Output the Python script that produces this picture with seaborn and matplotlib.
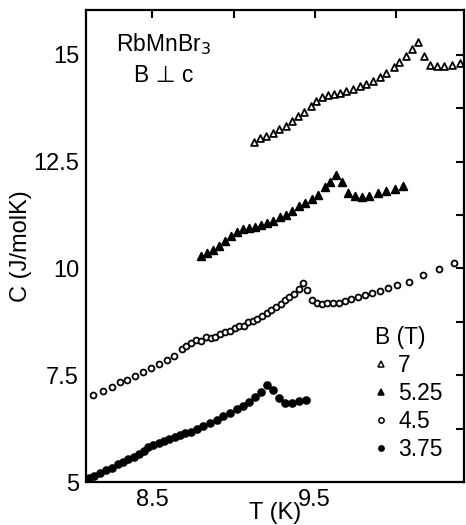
import matplotlib
matplotlib.use("Agg")
import matplotlib.pyplot as plt
import seaborn as sns
import pandas as pd
from matplotlib.ticker import FixedLocator
from matplotlib.lines import Line2D

sns.set_theme(style="white")
plt.rcParams['font.family'] = ['Liberation Sans', 'DejaVu Sans']
plt.rcParams['text.color'] = 'black'
plt.rcParams['axes.labelcolor'] = 'black'
plt.rcParams['xtick.color'] = 'black'
plt.rcParams['ytick.color'] = 'black'

# ---- data ----
T_7 = [9.125, 9.162, 9.199, 9.240, 9.281, 9.320, 9.359, 9.397, 9.434, 9.474, 9.506,
       9.543, 9.582, 9.617, 9.654, 9.695, 9.735, 9.777, 9.818, 9.858, 9.900, 9.941,
       9.987, 10.022, 10.064, 10.100, 10.137, 10.172, 10.213, 10.254, 10.299, 10.346, 10.397]
C_7 = [12.95, 13.06, 13.11, 13.17, 13.27, 13.34, 13.44, 13.56, 13.66, 13.80, 13.91,
       14.01, 14.06, 14.09, 14.11, 14.15, 14.20, 14.26, 14.32, 14.39, 14.48, 14.57,
       14.71, 14.83, 14.98, 15.14, 15.30, 14.98, 14.77, 14.75, 14.75, 14.77, 14.81]

T_525 = [8.799, 8.838, 8.875, 8.912, 8.949, 8.986, 9.022, 9.059, 9.096, 9.133, 9.170,
         9.207, 9.244, 9.285, 9.322, 9.359, 9.400, 9.440, 9.482, 9.523, 9.561, 9.597,
         9.633, 9.668, 9.707, 9.748, 9.789, 9.834, 9.887, 9.941, 9.992, 10.043]
C_525 = [10.28, 10.37, 10.44, 10.53, 10.65, 10.77, 10.85, 10.93, 10.95, 10.98, 11.02,
         11.07, 11.12, 11.20, 11.25, 11.35, 11.47, 11.53, 11.63, 11.73, 11.90, 12.03,
         12.19, 12.03, 11.76, 11.70, 11.68, 11.70, 11.76, 11.81, 11.86, 11.94]

T_45 = [8.131, 8.193, 8.248, 8.300, 8.344, 8.392, 8.439, 8.488, 8.539, 8.589, 8.635,
        8.681, 8.709, 8.740, 8.769, 8.797, 8.828, 8.859, 8.887, 8.918, 8.949, 8.978,
        9.008, 9.035, 9.062, 9.090, 9.117, 9.145, 9.174, 9.203, 9.231, 9.260, 9.289,
        9.317, 9.344, 9.371, 9.400, 9.428, 9.453, 9.486, 9.514, 9.543, 9.578, 9.612,
        9.648, 9.684, 9.726, 9.766, 9.812, 9.855, 9.900, 9.951, 10.008, 10.078, 10.170,
        10.268, 10.360]
C_45 = [7.03, 7.14, 7.23, 7.33, 7.39, 7.48, 7.58, 7.68, 7.76, 7.86, 7.96,
        8.12, 8.18, 8.25, 8.33, 8.31, 8.40, 8.37, 8.40, 8.47, 8.50, 8.54,
        8.61, 8.65, 8.65, 8.74, 8.78, 8.82, 8.89, 8.96, 9.03, 9.09, 9.17,
        9.25, 9.32, 9.39, 9.52, 9.67, 9.50, 9.25, 9.18, 9.16, 9.18, 9.18,
        9.20, 9.23, 9.28, 9.33, 9.38, 9.42, 9.47, 9.53, 9.61, 9.69, 9.84,
        9.99, 10.13]

T_375 = [8.107, 8.142, 8.179, 8.215, 8.252, 8.285, 8.318, 8.351, 8.383, 8.416, 8.445,
         8.475, 8.506, 8.539, 8.572, 8.604, 8.638, 8.670, 8.703, 8.736, 8.773, 8.813,
         8.855, 8.896, 8.936, 8.978, 9.019, 9.059, 9.096, 9.133, 9.170, 9.203, 9.240,
         9.277, 9.317, 9.359, 9.403, 9.449]
C_375 = [5.09, 5.15, 5.22, 5.28, 5.33, 5.41, 5.47, 5.53, 5.58, 5.66, 5.73,
         5.81, 5.87, 5.92, 5.97, 6.01, 6.06, 6.10, 6.14, 6.18, 6.24, 6.30,
         6.38, 6.45, 6.54, 6.62, 6.70, 6.79, 6.88, 6.98, 7.11, 7.27, 7.15,
         6.96, 6.86, 6.86, 6.89, 6.93]

field_labels = ["7", "5.25", "4.5", "3.75"]
x_tick_labeled = [8.5, 9.5]
x_tick_minor = [9.0, 10.0]
y_tick_labeled = [5, 7.5, 10, 12.5, 15]
y_tick_minor = [6.25, 8.75, 11.25, 13.75]

series = [
    (T_7, C_7, "^", "white", 24),
    (T_525, C_525, "^", "black", 30),
    (T_45, C_45, "o", "white", 18),
    (T_375, C_375, "o", "black", 24),
]

fig = plt.figure(figsize=(4.66, 5.25), dpi=100)
ax = fig.add_axes([0.1845, 0.0819, 0.8112, 0.8991])

handles = []
for (T, C, mk, fc, s), lab in zip(series, field_labels):
    df = pd.DataFrame({"T": T, "C": C})
    sns.scatterplot(data=df, x="T", y="C", marker=mk, s=s, color=fc,
                    edgecolor="black", linewidth=1.3, ax=ax, legend=False)
    handles.append(Line2D([], [], linestyle="none", marker=mk, markersize=4.2 if mk == "^" else 3.8,
                          markerfacecolor=fc, markeredgecolor="black", markeredgewidth=1.1))

ax.set_xlim(8.09, 10.42)
ax.set_ylim(5.0, 16.05)
ax.xaxis.set_major_locator(FixedLocator(x_tick_labeled))
ax.xaxis.set_minor_locator(FixedLocator(x_tick_minor))
ax.yaxis.set_major_locator(FixedLocator(y_tick_labeled))
ax.yaxis.set_minor_locator(FixedLocator(y_tick_minor))
ax.set_xticklabels([str(v) for v in x_tick_labeled])
ax.set_yticklabels(["5", "7.5", "10", "12.5", "15"])
ax.tick_params(which="both", direction="in", length=6, width=1.5, top=True, right=True,
               labelsize=17, colors="black")
ax.tick_params(axis="x", pad=5)
ax.tick_params(axis="y", pad=5)
for sp in ax.spines.values():
    sp.set_linewidth(1.6)
    sp.set_color("black")

ax.set_xlabel("T (K)", fontsize=17, labelpad=-6.5)
ax.set_ylabel("C (J/molK)", fontsize=17, labelpad=1)

ax.text(0.205, 0.955, r"RbMnBr$_3$", transform=ax.transAxes, ha="center", va="top", fontsize=16.5)
ax.text(0.205, 0.885, "B \u22a5 c", transform=ax.transAxes, ha="center", va="top", fontsize=16.5)

leg = ax.legend(handles, field_labels, title="B (T)", loc="upper left",
                bbox_to_anchor=(0.765, 0.33), frameon=False, fontsize=16.5,
                title_fontsize=16.5, handlelength=0.5, handletextpad=0.5,
                labelspacing=0.22, borderaxespad=0, borderpad=0)
leg._legend_box.align = "left"
for t in leg.get_texts():
    t.set_color("black")
leg.get_title().set_color("black")

fig.savefig("out.png", dpi=100)
